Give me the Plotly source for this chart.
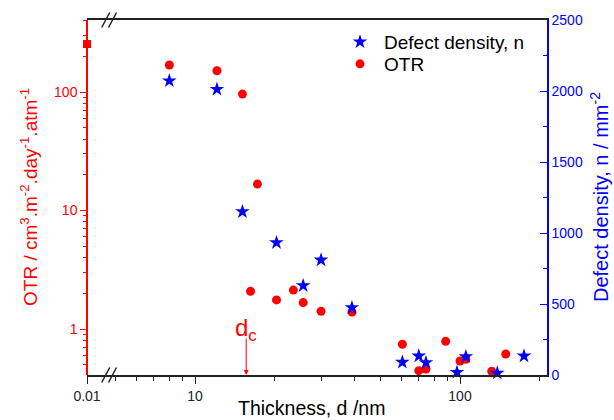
import math
import plotly.graph_objects as go

# ---------------- data ----------------
# OTR (left, log axis) vs thickness d (nm)
otr_d = [8.0, 12.1, 15.1, 17.2, 16.2, 20.3, 23.5, 25.6, 29.9, 39.1,
         60.6, 69.9, 74.4, 88.3, 100.0, 105.2, 131.7, 148.8]
otr_val = [169, 151, 96, 16.7, 2.08, 1.76, 2.13, 1.67, 1.41, 1.39,
           0.743, 0.445, 0.46, 0.787, 0.537, 0.555, 0.44, 0.615]

# uncoated substrate point shown at d = 0.01 (left of the axis break)
otr0_d = [0.01]
otr0_val = [254]

# Defect density (right, linear axis)
def_d = [8.0, 12.1, 15.1, 20.3, 29.9, 25.6, 39.1, 60.6, 69.9, 74.4,
         97.4, 105.2, 138.3, 174.4]
def_val = [2072, 2012, 1150, 932, 810, 629, 474, 90, 134, 87,
           19, 129, 14, 134]

d_c = 15.6  # critical thickness marked with an arrow

# tick labels
x_major = [10, 100]
x_minor = [5, 6, 7, 8, 9, 20, 30, 40, 50, 60, 70, 80, 90, 200]
y_major = [1, 10, 100]

# ---------------- layout geometry ----------------
W, H = 614, 420
L, R, T, B = 87, 67, 20, 45
PW, PH = W - L - R, H - T - B
BRK = 105  # pixel x where the main axis starts (after the break)

def px2paper_x(px):
    return (px - L) / PW

def px2paper_y(py):
    return (T + PH - py) / PH

RED = "#ff0000"
BLUE = "#0000ff"
FONT = "Liberation Sans, Arial, sans-serif"

y_minor = [m * 10 ** e for e in (-1, 0, 1, 2) for m in range(2, 10)]
y_minor = [v for v in y_minor if 0.4 <= v <= 400]

fig = go.Figure()

fig.add_trace(go.Scatter(
    x=otr0_d, y=otr0_val, xaxis="x2", yaxis="y", mode="markers",
    marker=dict(symbol="square", size=8, color=RED), showlegend=False,
    cliponaxis=False,
))
fig.add_trace(go.Scatter(
    x=otr_d, y=otr_val, xaxis="x", yaxis="y", mode="markers", name="OTR",
    marker=dict(symbol="circle", size=9, color=RED), cliponaxis=False,
    legend="legend2",
))
fig.add_trace(go.Scatter(
    x=def_d, y=def_val, xaxis="x", yaxis="y2", mode="markers",
    name="Defect density, n",
    marker=dict(symbol="star", size=11, color=BLUE), cliponaxis=False,
    legend="legend",
))

x_lo = 1 + (BRK - 195) / 265
x_hi = 1 + (547 - 195) / 265

leg_common = dict(xanchor="left", yanchor="middle", bgcolor="rgba(0,0,0,0)",
                  font=dict(size=19, color="black"), itemwidth=38)

fig.update_layout(
    width=W, height=H,
    margin=dict(l=L, r=R, t=T, b=B, autoexpand=False),
    paper_bgcolor="white", plot_bgcolor="white",
    font=dict(family=FONT, size=14, color="black"),
    showlegend=True,
    legend=dict(x=px2paper_x(336), y=px2paper_y(42), **leg_common),
    legend2=dict(x=px2paper_x(336), y=px2paper_y(64), **leg_common),
    xaxis=dict(
        type="log", domain=[px2paper_x(BRK), 1], range=[x_lo, x_hi],
        anchor="y", showline=True, linecolor="#222", linewidth=1.5,
        mirror=True, ticks="outside", ticklen=7, tickwidth=1.2, tickcolor="#222",
        tickvals=x_major, ticktext=[str(v) for v in x_major],
        tickfont=dict(size=14, color="#222"),
        minor=dict(tickvals=x_minor, ticks="outside", ticklen=4, tickcolor="#222",
                   tickwidth=1.2, showgrid=False),
        showgrid=False, zeroline=False, automargin=False,
    ),
    xaxis2=dict(
        type="log", domain=[0, px2paper_x(BRK)], range=[-2, -1.85],
        anchor="y", showline=True, linecolor="#222", linewidth=1.5, mirror=True,
        ticks="outside", ticklen=7, tickwidth=1.2, tickcolor="#222",
        tickvals=otr0_d, ticktext=["0.01"], tickfont=dict(size=14, color="#222"),
        showgrid=False, zeroline=False, automargin=False,
    ),
    xaxis3=dict(
        type="log", domain=[px2paper_x(BRK), 1], range=[x_lo, x_hi],
        overlaying="x", side="top", anchor="y", showline=False,
        ticks="inside", ticklen=7, tickwidth=1.2, tickcolor="#222",
        tickvals=x_major, showticklabels=False,
        minor=dict(tickvals=x_minor, ticks="inside", ticklen=4, tickcolor="#222",
                   tickwidth=1.2, showgrid=False),
        showgrid=False, zeroline=False, automargin=False,
    ),
    yaxis=dict(
        type="log", range=[2 - (T + PH - 92) / 118.5, 2 + (92 - T) / 118.5],
        anchor="free", position=0, showline=True, linecolor=RED, linewidth=1.5,
        ticks="outside", ticklen=6, tickwidth=1.2, tickcolor=RED,
        tickvals=y_major, ticktext=[str(v) for v in y_major],
        tickfont=dict(size=14, color=RED),
        minor=dict(tickvals=y_minor, ticks="outside", ticklen=3, tickcolor=RED,
                   tickwidth=1.2, showgrid=False),
        showgrid=False, zeroline=False, automargin=False,
    ),
    yaxis2=dict(
        range=[0, 2500], overlaying="y", side="right", anchor="x",
        showline=True, linecolor=BLUE, linewidth=1.5,
        ticks="inside", ticklen=7, tickwidth=1.2, tickcolor=BLUE,
        dtick=500, tickfont=dict(size=14, color=BLUE),
        minor=dict(dtick=250, ticks="inside", ticklen=4, tickcolor=BLUE,
                   tickwidth=1.2, showgrid=False),
        showgrid=False, zeroline=False, automargin=False,
    ),
)

# axis titles
fig.add_annotation(
    x=px2paper_x(311), y=px2paper_y(408), xref="paper", yref="paper",
    text="Thickness, d /nm", showarrow=False, xanchor="center", yanchor="middle",
    font=dict(size=19.5, color="black", family=FONT),
)
fig.add_annotation(
    x=px2paper_x(29), y=px2paper_y(197), xref="paper", yref="paper",
    text="OTR / cm<sup>3</sup>.m<sup>-2</sup>.day<sup>-1</sup>.atm<sup>-1</sup>",
    showarrow=False, textangle=-90, xanchor="center", yanchor="middle",
    font=dict(size=19, color=RED, family=FONT),
)
fig.add_annotation(
    x=px2paper_x(599), y=px2paper_y(197), xref="paper", yref="paper",
    text="Defect density, n / mm<sup>-2</sup>",
    showarrow=False, textangle=-90, xanchor="center", yanchor="middle",
    font=dict(size=20, color=BLUE, family=FONT),
)

# axis-break marks "//" on bottom and top axes
shapes = []
for yb in (T + PH, T):
    for x0 in (101.7, 108.5):
        shapes.append(dict(
            type="line", xref="paper", yref="paper",
            x0=px2paper_x(x0), y0=px2paper_y(yb + 7.5),
            x1=px2paper_x(x0 + 8), y1=px2paper_y(yb - 7.5),
            line=dict(color="#222", width=1.5),
        ))
fig.update_layout(shapes=shapes)

# d_c arrow and label
fig.add_annotation(
    x=math.log10(d_c), y=0, xref="x", yref="paper", text="", showarrow=True,
    ax=0, ay=-38, arrowhead=2, arrowsize=1, arrowwidth=1, arrowcolor=RED,
)
fig.add_annotation(
    x=math.log10(d_c), y=px2paper_y(329), xref="x", yref="paper",
    text="d<sub>c</sub>", showarrow=False, xanchor="center", yanchor="middle",
    font=dict(size=24, color=RED, family=FONT),
)

fig.write_html(
    "out.html",
    config={"displayModeBar": False},
    post_script="document.body.style.margin='0';document.body.style.padding='0';"
                "document.documentElement.style.overflow='hidden';",
)
